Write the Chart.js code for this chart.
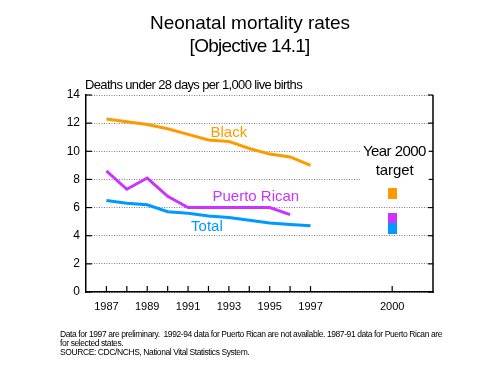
<!DOCTYPE html>
<html><head><meta charset="utf-8">
<script src="https://cdn.jsdelivr.net/npm/chart.js@4"></script>
<style>html,body{margin:0;padding:0;background:#fff}canvas{display:block}</style>
</head><body>
<canvas id="c" width="500" height="378"></canvas>
<script>
// ---- data ----
const categories = ['', '1987','1988','1989','1990','1991','1992','1993','1994','1995','1996','1997','','','','2000','',''];
const years = ['1987','1988','1989','1990','1991','1992','1993','1994','1995','1996','1997'];
const tickLabels = ['1987','1989','1991','1993','1995','1997','2000'];
const tickMarkYears = ['1987','1988','1989','1990','1991','1992','1993','1994','1995','1996','1997','2000'];
const blackValues = [12.3, 12.1, 11.9, 11.6, 11.2, 10.8, 10.7, 10.2, 9.8, 9.6, 9.0];
const puertoRicanValues = [8.6, 7.3, 8.1, 6.8, 6.0, null, null, null, 6.0, 5.5, null];
const totalValues = [6.5, 6.3, 6.2, 5.7, 5.6, 5.4, 5.3, 5.1, 4.9, 4.8, 4.7];
const targetYear = '2000';
const targetNames = ['Black', 'Puerto Rican', 'Total'];
const targetValues = [7.0, 5.2, 4.5];
const yMin = 0, yMax = 14, yStep = 2;

const FONT = '"Liberation Sans", Arial, Helvetica, sans-serif';
const colors = {'Black': '#FF9900', 'Puerto Rican': '#CC33FF', 'Total': '#0099FF'};

function toPoints(vals) {
  return years.map((y, i) => ({x: y, y: vals[i]}));
}
function markerCanvas(color) {
  const c = document.createElement('canvas');
  c.width = 9; c.height = 11;
  const g = c.getContext('2d');
  g.fillStyle = color; g.fillRect(0, 0, 9, 11);
  return c;
}

function fitText(ctx, text, x, y, width, align) {
  ctx.letterSpacing = '0px';
  const w = ctx.measureText(text).width;
  const ls = (width - w) / Math.max(1, text.length);
  ctx.letterSpacing = ls + 'px';
  const w2 = ctx.measureText(text).width - ls;
  let lx = x;
  if (align === 'center') lx = x - w2 / 2;
  ctx.textAlign = 'left';
  ctx.fillText(text, lx, y);
  ctx.letterSpacing = '0px';
  return ls;
}

const decor = {
  id: 'decor',
  afterDraw(chart) {
    const ctx = chart.ctx;
    const a = chart.chartArea;
    const xs = chart.scales.x, ys = chart.scales.y;
    ctx.save();
    // right border
    ctx.strokeStyle = '#000'; ctx.lineWidth = 1.5;
    ctx.beginPath(); ctx.moveTo(a.right, ys.getPixelForValue(yMax)); ctx.lineTo(a.right, a.bottom + 0.75); ctx.stroke();
    // inward y ticks
    ctx.lineWidth = 1.2;
    for (let v = yMin; v <= yMax; v += yStep) {
      const py = ys.getPixelForValue(v);
      ctx.beginPath(); ctx.moveTo(a.left, py); ctx.lineTo(a.left + 6, py); ctx.stroke();
      ctx.beginPath(); ctx.moveTo(a.right, py); ctx.lineTo(a.right - 5, py); ctx.stroke();
    }
    // inward x ticks
    tickMarkYears.forEach(yr => {
      const px = xs.getPixelForValue(categories.indexOf(yr));
      ctx.beginPath(); ctx.moveTo(px, a.bottom); ctx.lineTo(px, a.bottom - 6); ctx.stroke();
    });

    ctx.fillStyle = '#000';
    ctx.textBaseline = 'alphabetic';
    // titles
    ctx.font = '19px ' + FONT;
    fitText(ctx, 'Neonatal mortality rates', 250, 29, 200, 'center');
    fitText(ctx, '[Objective 14.1]', 250, 52, 120, 'center');
    // y axis title
    ctx.font = '13px ' + FONT;
    fitText(ctx, 'Deaths under 28 days per 1,000 live births', 85, 89, 217, 'left');

    // series labels
    ctx.font = '15px ' + FONT;
    ctx.fillStyle = colors['Black'];
    ctx.fillText('Black', xs.getPixelForValue(categories.indexOf('1992')) + 2, ys.getPixelForValue(11.0));
    ctx.fillStyle = colors['Puerto Rican'];
    ctx.fillText('Puerto Rican', xs.getPixelForValue(categories.indexOf('1992')) + 4, ys.getPixelForValue(6.5));
    ctx.fillStyle = colors['Total'];
    ctx.fillText('Total', xs.getPixelForValue(categories.indexOf('1991')) + 3, ys.getPixelForValue(4.3));

    // target label with white background
    const tx = xs.getPixelForValue(categories.indexOf(targetYear)) + 2.5;
    ctx.fillStyle = '#fff';
    ctx.fillRect(tx - 34, ys.getPixelForValue(10.4), 68, 36);
    ctx.fillStyle = '#000';
    ctx.font = '15px ' + FONT;
    fitText(ctx, 'Year 2000', tx, ys.getPixelForValue(9.66), 63, 'center');
    fitText(ctx, 'target', tx, ys.getPixelForValue(8.28), 38, 'center');

    // footnotes
    ctx.font = '8.5px ' + FONT;
    const ls = fitText(ctx, 'Data for 1997 are preliminary.  1992-94 data for Puerto Rican are not available. 1987-91 data for Puerto Rican are', 60, 337, 382, 'left');
    ctx.letterSpacing = ls + 'px';
    ctx.fillText('for selected states.', 60, 346);
    ctx.fillText('SOURCE: CDC/NCHS, National Vital Statistics System.', 60, 355);
    ctx.letterSpacing = '0px';
    ctx.restore();
  }
};

new Chart(document.getElementById('c'), {
  type: 'line',
  data: {
    labels: categories,
    datasets: [
      {
        label: 'Year 2000 target',
        data: targetValues.map(v => ({x: targetYear, y: v})),
        showLine: false,
        pointStyle: targetNames.map(n => markerCanvas(colors[n])),
        pointRadius: 5
      },
      {label: 'Total', data: toPoints(totalValues), borderColor: colors['Total'], borderWidth: 3, pointRadius: 0, tension: 0},
      {label: 'Puerto Rican', data: toPoints(puertoRicanValues), borderColor: colors['Puerto Rican'], borderWidth: 3, pointRadius: 0, tension: 0, spanGaps: true},
      {label: 'Black', data: toPoints(blackValues), borderColor: colors['Black'], borderWidth: 3, pointRadius: 0, tension: 0}
    ]
  },
  options: {
    responsive: false,
    animation: false,
    events: [],
    layout: {padding: {left: 50, right: 67, top: 95, bottom: 46}},
    plugins: {legend: {display: false}, tooltip: {enabled: false}, title: {display: false}},
    scales: {
      x: {
        type: 'category',
        offset: false,
        afterFit(s) { s.height = 40; },
        grid: {display: true, drawOnChartArea: false, drawTicks: false},
        border: {display: true, color: '#000', width: 1.5},
        ticks: {
          autoSkip: false, maxRotation: 0, padding: 8, color: '#000',
          font: {family: FONT, size: 11},
          callback(v, i) { const l = categories[i]; return tickLabels.includes(l) ? l : ''; }
        }
      },
      y: {
        min: yMin, max: yMax,
        afterFit(s) { s.width = 36; },
        grid: {color: '#808080', lineWidth: 1, drawTicks: false},
        border: {display: true, color: '#000', width: 1.5, dash: [1, 1.5]},
        ticks: {stepSize: yStep, padding: 6, color: '#000', font: {family: FONT, size: 12}}
      }
    }
  },
  plugins: [decor]
});
</script>
</body></html>
